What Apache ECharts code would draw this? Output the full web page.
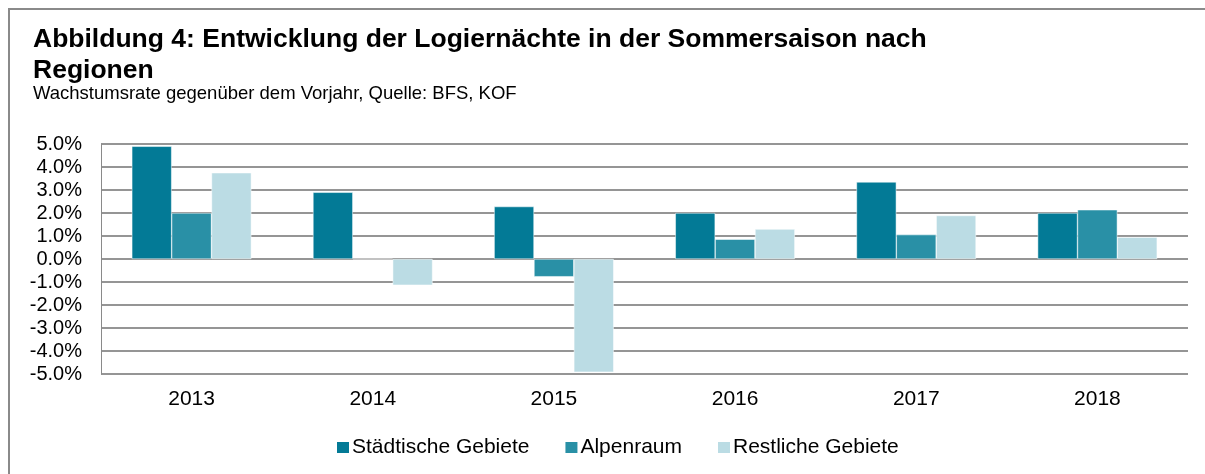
<!DOCTYPE html>
<html>
<head>
<meta charset="utf-8">
<script src="https://cdn.jsdelivr.net/npm/echarts@6/dist/echarts.min.js"></script>
<style>
  html, body { margin: 0; padding: 0; background: #fff; }
  #frame { position: absolute; left: 8px; top: 8px; right: 0; bottom: 0; border-top: 2px solid #8a8a8a; border-left: 2px solid #8a8a8a; }
  #chart { position: absolute; left: 0; top: 0; width: 1205px; height: 474px; }
</style>
</head>
<body>
<div id="frame"></div>
<div id="chart"></div>
<script>
// Jahre und Wachstumsraten in %
const years = ['2013', '2014', '2015', '2016', '2017', '2018'];
const staedtisch = [4.9, 2.9, 2.28, 2.0, 3.35, 2.0];
const alpenraum = [2.0, 0, -0.77, 0.86, 1.06, 2.14];
const restlich = [3.75, -1.14, -4.92, 1.3, 1.89, 0.95];
const seriesNames = ['Städtische Gebiete', 'Alpenraum', 'Restliche Gebiete'];

const font = 'Liberation Sans, Arial, sans-serif';
const colors = ['#037a96', '#2990a6', '#bbdce4'];

let chart = echarts.init(document.getElementById('chart'));

let mkBar = (name, data) => ({
  name: name,
  type: 'bar',
  data: data,
  barGap: '0%',
  barCategoryGap: '34%',
  itemStyle: { borderColor: '#fff', borderWidth: 0.5 }
});

chart.setOption({
  animation: false,
  color: colors,
  textStyle: { fontFamily: font },
  title: [
    {
      text: 'Abbildung 4: Entwicklung der Logiernächte in der Sommersaison nach\nRegionen',
      left: 33, top: 24, padding: 0,
      textStyle: { fontSize: 26.5, fontWeight: 'bold', color: '#000', lineHeight: 31, fontFamily: font }
    },
    {
      text: 'Wachstumsrate gegenüber dem Vorjahr, Quelle: BFS, KOF',
      left: 33, top: 84, padding: 0,
      textStyle: { fontSize: 18.5, fontWeight: 'normal', color: '#000', fontFamily: font }
    }
  ],
  grid: { left: 101, right: 17, top: 144, bottom: 100 },
  legend: {
    top: 437,
    left: 335,
    padding: 0,
    icon: 'rect',
    itemWidth: 14,
    itemHeight: 13,
    itemGap: 34,
    textStyle: { fontSize: 21, color: '#000', fontFamily: font, padding: [0, 0, 0, -3] },
    data: seriesNames
  },
  xAxis: {
    type: 'category',
    data: years,
    axisLine: { onZero: false, show: false },
    axisTick: { show: false },
    axisLabel: { fontSize: 21, color: '#000', margin: 15 }
  },
  yAxis: {
    type: 'value',
    min: -5, max: 5, interval: 1,
    axisLine: { show: true, lineStyle: { color: '#8a8a8a', width: 1 } },
    axisTick: { show: false },
    axisLabel: {
      fontSize: 20, color: '#000', margin: 19,
      formatter: v => v.toFixed(1) + '%'
    },
    splitLine: { lineStyle: { color: '#959595', width: 2 } }
  },
  series: [
    mkBar(seriesNames[0], staedtisch),
    mkBar(seriesNames[1], alpenraum),
    mkBar(seriesNames[2], restlich)
  ]
});
</script>
</body>
</html>
